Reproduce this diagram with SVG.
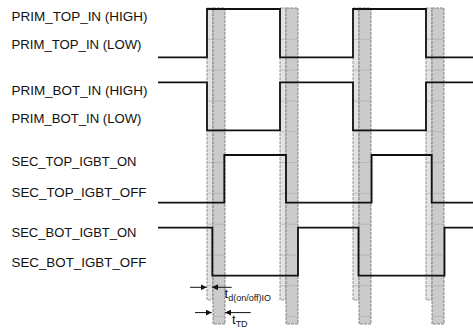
<svg xmlns="http://www.w3.org/2000/svg" width="473" height="329" viewBox="0 0 473 329">
<style>
.lbl{font-family:"Liberation Sans",Arial,sans-serif;font-size:13px;fill:#111}
.sub{font-size:9px}
.wave{fill:none;stroke:#111;stroke-width:1.8;stroke-linejoin:miter}
.lb{fill:#e2e2e2;stroke:#808080;stroke-width:0.8;stroke-dasharray:3 1}
.db{fill:#cbcbcb;stroke:#707070;stroke-width:0.8;stroke-dasharray:3 1}
.grid{stroke:#a8a8a8;stroke-width:0.6}
.dim{stroke:#111;stroke-width:1;fill:none}
</style>
<defs>
<marker id="ah" viewBox="0 0 6 6" refX="6" refY="3" markerWidth="6" markerHeight="6" markerUnits="userSpaceOnUse" orient="auto">
<path d="M0,0 L6,3 L0,6 Z" fill="#111"/>
</marker>
<g id="bandpair">
<rect class="lb" x="0" y="8" width="6" height="292"/>
<rect class="db" x="6" y="8" width="12" height="316"/>
<path class="grid" d="M0,39.3H18M0,70H18M0,101H18M0,131.7H18M0,162.6H18M0,193.3H18M0,224.2H18M0,255H18M0,285.7H18M6,316.4H18"/>
</g>
</defs>
<g id="bands">
<use href="#bandpair" x="207"/>
<use href="#bandpair" x="280"/>
<use href="#bandpair" x="353"/>
<use href="#bandpair" x="426"/>
</g>
<g id="labels">
<text class="lbl" x="11.5" y="21" textLength="136" lengthAdjust="spacingAndGlyphs">PRIM_TOP_IN (HIGH)</text>
<text class="lbl" x="11.5" y="48.7" textLength="130" lengthAdjust="spacingAndGlyphs">PRIM_TOP_IN (LOW)</text>
<text class="lbl" x="11.5" y="95.3" textLength="136" lengthAdjust="spacingAndGlyphs">PRIM_BOT_IN (HIGH)</text>
<text class="lbl" x="11.5" y="123" textLength="130" lengthAdjust="spacingAndGlyphs">PRIM_BOT_IN (LOW)</text>
<text class="lbl" x="11.5" y="166.3" textLength="125" lengthAdjust="spacingAndGlyphs">SEC_TOP_IGBT_ON</text>
<text class="lbl" x="11.5" y="197" textLength="135" lengthAdjust="spacingAndGlyphs">SEC_TOP_IGBT_OFF</text>
<text class="lbl" x="11.5" y="236.6" textLength="125" lengthAdjust="spacingAndGlyphs">SEC_BOT_IGBT_ON</text>
<text class="lbl" x="11.5" y="266.6" textLength="135" lengthAdjust="spacingAndGlyphs">SEC_BOT_IGBT_OFF</text>
</g>
<g id="prim_top"><path class="wave" d="M158,57.3H207V9H280V57.3H353V9H426V57.3H473"/></g>
<g id="prim_bot"><path class="wave" d="M158,82.3H207V130.3H280V82.3H353V130.3H426V82.3H473"/></g>
<g id="sec_top"><path class="wave" d="M158,202.6H224.3V155H286V202.6H371.6V155H431.7V202.6H473"/></g>
<g id="sec_bot"><path class="wave" d="M158,227.6H212.3V275.7H298V227.6H358.5V275.7H444.5V227.6H473"/></g>
<g id="connectors">
<line class="dim" x1="190" y1="287.3" x2="206.7" y2="287.3" marker-end="url(#ah)"/>
<line class="dim" x1="231.7" y1="287.3" x2="212" y2="287.3" marker-end="url(#ah)"/>
<line class="dim" x1="195" y1="312.6" x2="211.8" y2="312.6" marker-end="url(#ah)"/>
<line class="dim" x1="250.7" y1="312.6" x2="225" y2="312.6" marker-end="url(#ah)"/>
</g>
<g id="annotations">
<text class="lbl" x="224.5" y="298">t<tspan class="sub" dy="3">d(on/off)IO</tspan></text>
<text class="lbl" x="232" y="323.5">t<tspan class="sub" dy="3">TD</tspan></text>
</g>
</svg>
